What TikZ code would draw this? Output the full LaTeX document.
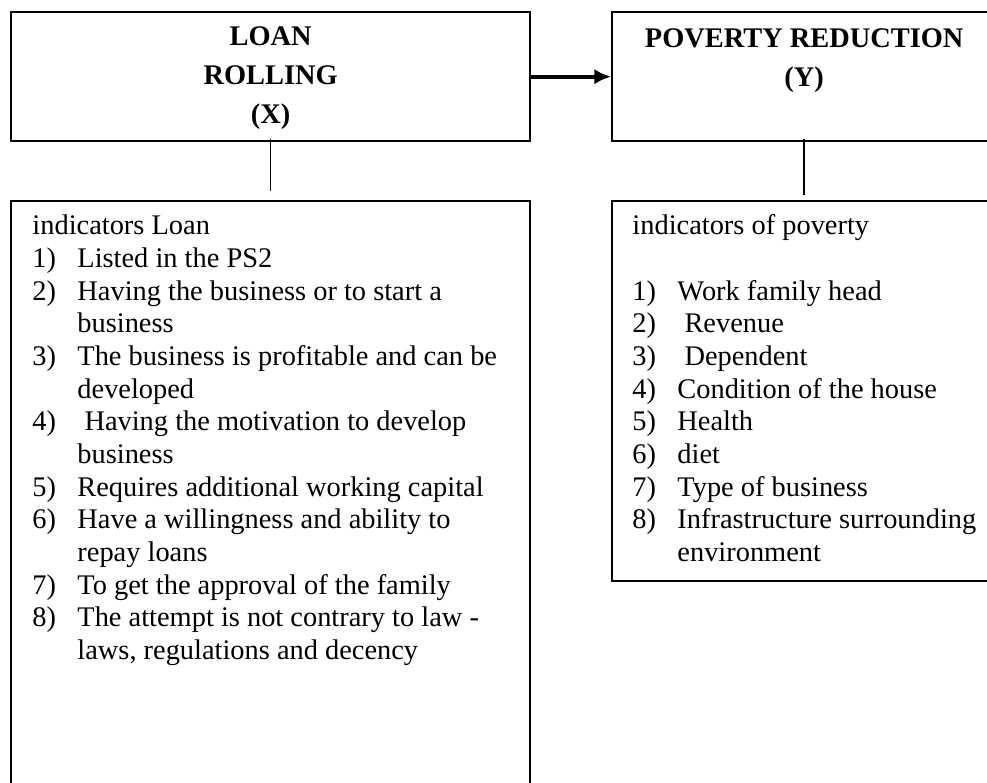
\documentclass[tikz,border=0pt]{standalone}
\usepackage{fontspec}
\setmainfont{Liberation Serif}
\usetikzlibrary{arrows.meta}

\newcommand\pxu{0.4225pt}

\begin{document}
\begin{tikzpicture}[x=\pxu, y=-\pxu,
    box/.style={draw, line width=1pt, inner sep=0pt, anchor=north west},
    head/.style={font=\bfseries\fontsize{12}{16.5}\selectfont, align=center, inner sep=0pt, anchor=north},
    list/.style={font=\fontsize{12}{13.8}\selectfont, inner sep=0pt, anchor=base west}]
    \useasboundingbox (0,0) rectangle (987,783);
    \clip (0,0) rectangle (987,783);

    % Caixes de les variables
    \node[box, minimum width=519*\pxu, minimum height=129*\pxu] (loan) at (10,11) {};
    \node[box, minimum width=384*\pxu, minimum height=129*\pxu] (pov) at (611,11) {};
    \node[head] (loanhd) at ([yshift=-15*\pxu]loan.north) {LOAN\\ROLLING\\(X)};
    \node[head] (povhd) at ([yshift=-17*\pxu]pov.north) {POVERTY REDUCTION\\(Y)};
    \draw[line width=1.6pt, -{Latex[length=7pt,width=6.5pt]}] (loan.east) -- (pov.west);

    % Caixes dels indicadors
    \node[box, minimum width=519*\pxu, minimum height=620*\pxu] (loanind) at (10,200) {};
    \node[box, minimum width=384*\pxu, minimum height=380*\pxu] (povind) at (611,200) {};
    \draw[line width=0.6pt] ([yshift=3*\pxu]loan.south) -- ([yshift=9*\pxu]loanind.north);
    \draw[line width=0.6pt] ([yshift=3*\pxu]pov.south) -- ([yshift=5*\pxu]povind.north);

    % Llistes
    \node[list] (loanlist) at (32,235) {\begin{tabular}[t]{@{}p{19pt}@{}l@{}}
        \multicolumn{2}{@{}l@{}}{indicators Loan}\\
        1) & Listed in the PS2\\
        2) & Having the business or to start a\\
           & business\\
        3) & The business is profitable and can be\\
           & developed\\
        4) & \ Having the motivation to develop\\
           & business\\
        5) & Requires additional working capital\\
        6) & Have a willingness and ability to\\
           & repay loans\\
        7) & To get the approval of the family\\
        8) & The attempt is not contrary to law -\\
           & laws, regulations and decency
    \end{tabular}};
    \node[list] (povlist) at (632,235) {\begin{tabular}[t]{@{}p{19pt}@{}l@{}}
        \multicolumn{2}{@{}l@{}}{indicators of poverty}\\
        & \\
        1) & Work family head\\
        2) & \ Revenue\\
        3) & \ Dependent\\
        4) & Condition of the house\\
        5) & Health\\
        6) & diet\\
        7) & Type of business\\
        8) & Infrastructure surrounding\\
           & environment
    \end{tabular}};
\end{tikzpicture}
\end{document}
